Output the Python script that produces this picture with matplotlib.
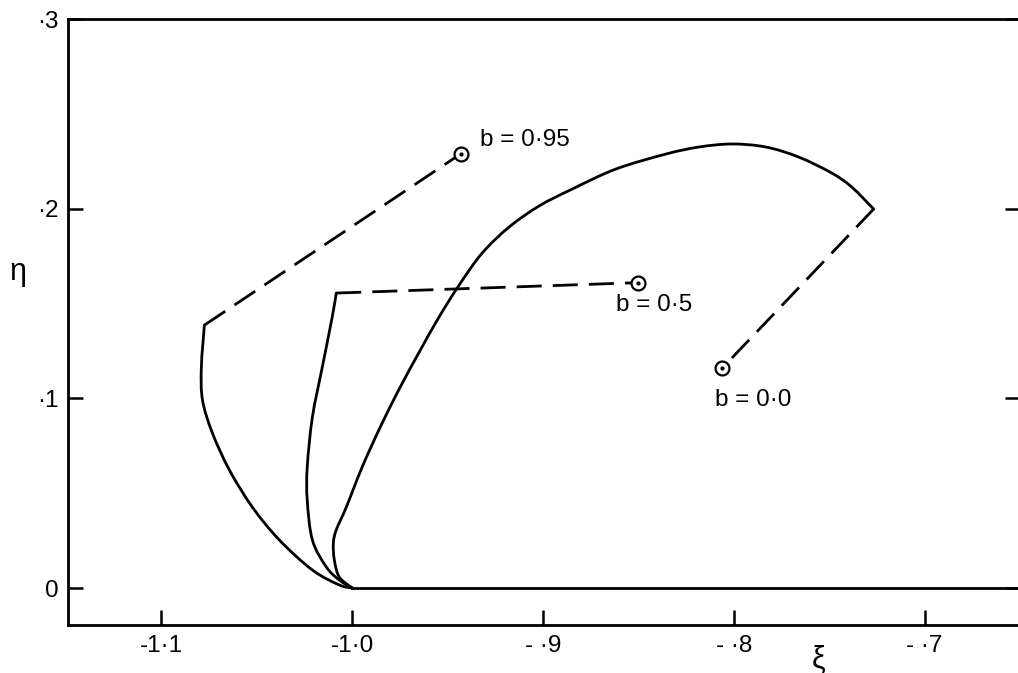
import matplotlib
matplotlib.use("Agg")
import numpy as np
import matplotlib.pyplot as plt
from matplotlib.path import Path
from matplotlib.patches import PathPatch

# solid branches, each leaving the point (-1.0, 0)
xi_b00 = [-1.000, -1.0068, -1.0094, -1.0099, -1.0084, -1.0031, -0.9948, -0.9853,
          -0.9754, -0.9649, -0.9545, -0.9440, -0.9319, -0.9178, -0.9021, -0.8848,
          -0.8618, -0.8356, -0.8183, -0.8010, -0.7832, -0.7660, -0.7487, -0.7382,
          -0.7267]
eta_b00 = [0.000, 0.0058, 0.0148, 0.0237, 0.0306, 0.0427, 0.0638, 0.0849,
           0.1049, 0.1244, 0.1429, 0.1597, 0.1766, 0.1903, 0.2014, 0.2103,
           0.2209, 0.2288, 0.2325, 0.2341, 0.2325, 0.2272, 0.2188, 0.2114,
           0.1998]

xi_b05 = [-1.000, -1.0068, -1.0136, -1.0209, -1.0236, -1.0236, -1.0209, -1.0157,
          -1.0105, -1.0084]
eta_b05 = [0.000, 0.0042, 0.0111, 0.0253, 0.0464, 0.0638, 0.0901, 0.1165,
           0.1429, 0.1555]

xi_b095 = [-1.000, -1.0068, -1.0209, -1.0382, -1.0524, -1.0644, -1.0733, -1.0785,
           -1.0791, -1.0775]
eta_b095 = [0.000, 0.0016, 0.0095, 0.0253, 0.0427, 0.0622, 0.0817, 0.0991,
            0.1165, 0.1386]

# end points (circled) reached by the dashed segments
end_xi = [-0.806, -0.850, -0.943]
end_eta = [0.116, 0.161, 0.229]
end_labels = ["b = 0·0", "b = 0·5", "b = 0·95"]

xticks = [-1.1, -1.0, -0.9, -0.8, -0.7]
xticklabels = ["-1·1", "-1·0", "- ·9", "- ·8", "- ·7"]
yticks = [0.0, 0.1, 0.2, 0.3]
yticklabels = ["0", "·1", "·2", "·3"]


def smooth_path(xs, ys):
    # Catmull-Rom curve through the points, as cubic Bezier segments
    p = np.column_stack([xs, ys])
    n = len(p)
    verts = [p[0]]
    codes = [Path.MOVETO]
    for i in range(n - 1):
        p0 = p[i - 1] if i > 0 else p[i]
        p1, p2 = p[i], p[i + 1]
        p3 = p[i + 2] if i + 2 < n else p[i + 1]
        verts += [p1 + (p2 - p0) / 6, p2 - (p3 - p1) / 6, p2]
        codes += [Path.CURVE4] * 3
    return Path(verts, codes)


plt.rcParams["font.family"] = ["Liberation Sans", "DejaVu Sans"]

fig = plt.figure(figsize=(10.18, 6.73), dpi=100)
ax = fig.add_axes([68 / 1018, 48 / 673, (1020 - 68) / 1018, (625 - 19) / 673])
ax.set_xlim(-1.149, -0.650)
ax.set_ylim(-0.0195, 0.300)

lw = 2.0
curves = [(xi_b00, eta_b00), (xi_b05, eta_b05), (xi_b095, eta_b095)]
for (xs, ys), ex, ey in zip(curves, end_xi, end_eta):
    ax.add_patch(PathPatch(smooth_path(xs, ys), fill=False, ec="black", lw=lw,
                           capstyle="round", joinstyle="round", zorder=3))
    ax.plot([xs[-1], ex], [ys[-1], ey], color="black", lw=lw,
            dashes=(9, 4), zorder=3)
    ax.plot(ex, ey, marker="o", ms=10, mfc="white", mec="black", mew=1.6,
            zorder=4)
    ax.plot(ex, ey, marker="o", ms=2, color="black", zorder=5)

# axis η = 0 continued to the right
ax.plot([-1.0, -0.650], [0, 0], color="black", lw=lw, zorder=3)

# labels for the end points
label_pos = [(-0.810, 0.099), (-0.862, 0.149), (-0.933, 0.236)]
for (lx, ly), text in zip(label_pos, end_labels):
    ax.text(lx, ly, text, fontsize=17.5, ha="left", va="center")

ax.set_xticks(xticks)
ax.set_xticklabels(xticklabels)
ax.set_yticks(yticks)
ax.set_yticklabels(yticklabels)
ax.tick_params(direction="in", length=11, width=1.8, labelsize=17.5, pad=7,
               right=True)

for side in ax.spines.values():
    side.set_linewidth(2.0)

fig.text(819 / 1018, 1 - 660 / 673, "ξ", fontsize=22, ha="center", va="center")
fig.text(18 / 1018, 1 - 272 / 673, "η", fontsize=22, ha="center", va="center")

fig.savefig("out.png", dpi=100, facecolor="white")
